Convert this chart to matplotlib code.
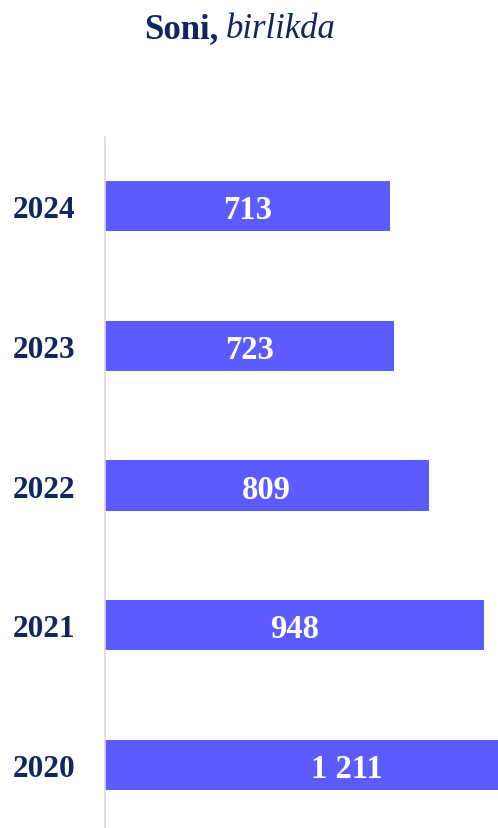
import matplotlib.pyplot as plt

years = ["2020", "2021", "2022", "2023", "2024"]
values = [1211, 948, 809, 723, 713]
labels = ["1 211", "948", "809", "723", "713"]

navy = "#0F2660"
bar_color = "#5B5BFF"

plt.rcParams['font.family'] = ['Liberation Serif', 'DejaVu Serif']

fig = plt.figure(figsize=(4.98, 8.29), dpi=100)
ax = fig.add_axes([105 / 498, 0, 1 - 105 / 498, (829 - 138) / 829])

pos = range(len(years))
ax.barh(pos, values, height=0.36, color=bar_color, clip_on=True)
for i, (v, lab) in enumerate(zip(values, labels)):
    ax.text(v / 2, i, lab, ha='center', va='center_baseline', color='white',
            fontsize=23.5, fontweight='bold')

ax.set_xlim(0, (498 - 105) / 0.4)
ax.set_ylim(-0.45, 4.493)
ax.set_yticks(list(pos))
ax.set_yticklabels(years, fontsize=22.5, fontweight='bold', color=navy)
ax.tick_params(axis='y', length=0, pad=21)
ax.set_xticks([])
for s in ['top', 'right', 'bottom']:
    ax.spines[s].set_visible(False)
ax.spines['left'].set_color('#D9D9D9')
ax.spines['left'].set_linewidth(1.2)

fig.text(219 / 498, 1 - 30 / 829, "Soni,", ha='right', va='center',
         fontsize=25, fontweight='bold', color=navy)
fig.text(226 / 498, 1 - 30 / 829, "birlikda", ha='left', va='center',
         fontsize=25, style='italic', color=navy)

fig.savefig("out.png", dpi=100)
